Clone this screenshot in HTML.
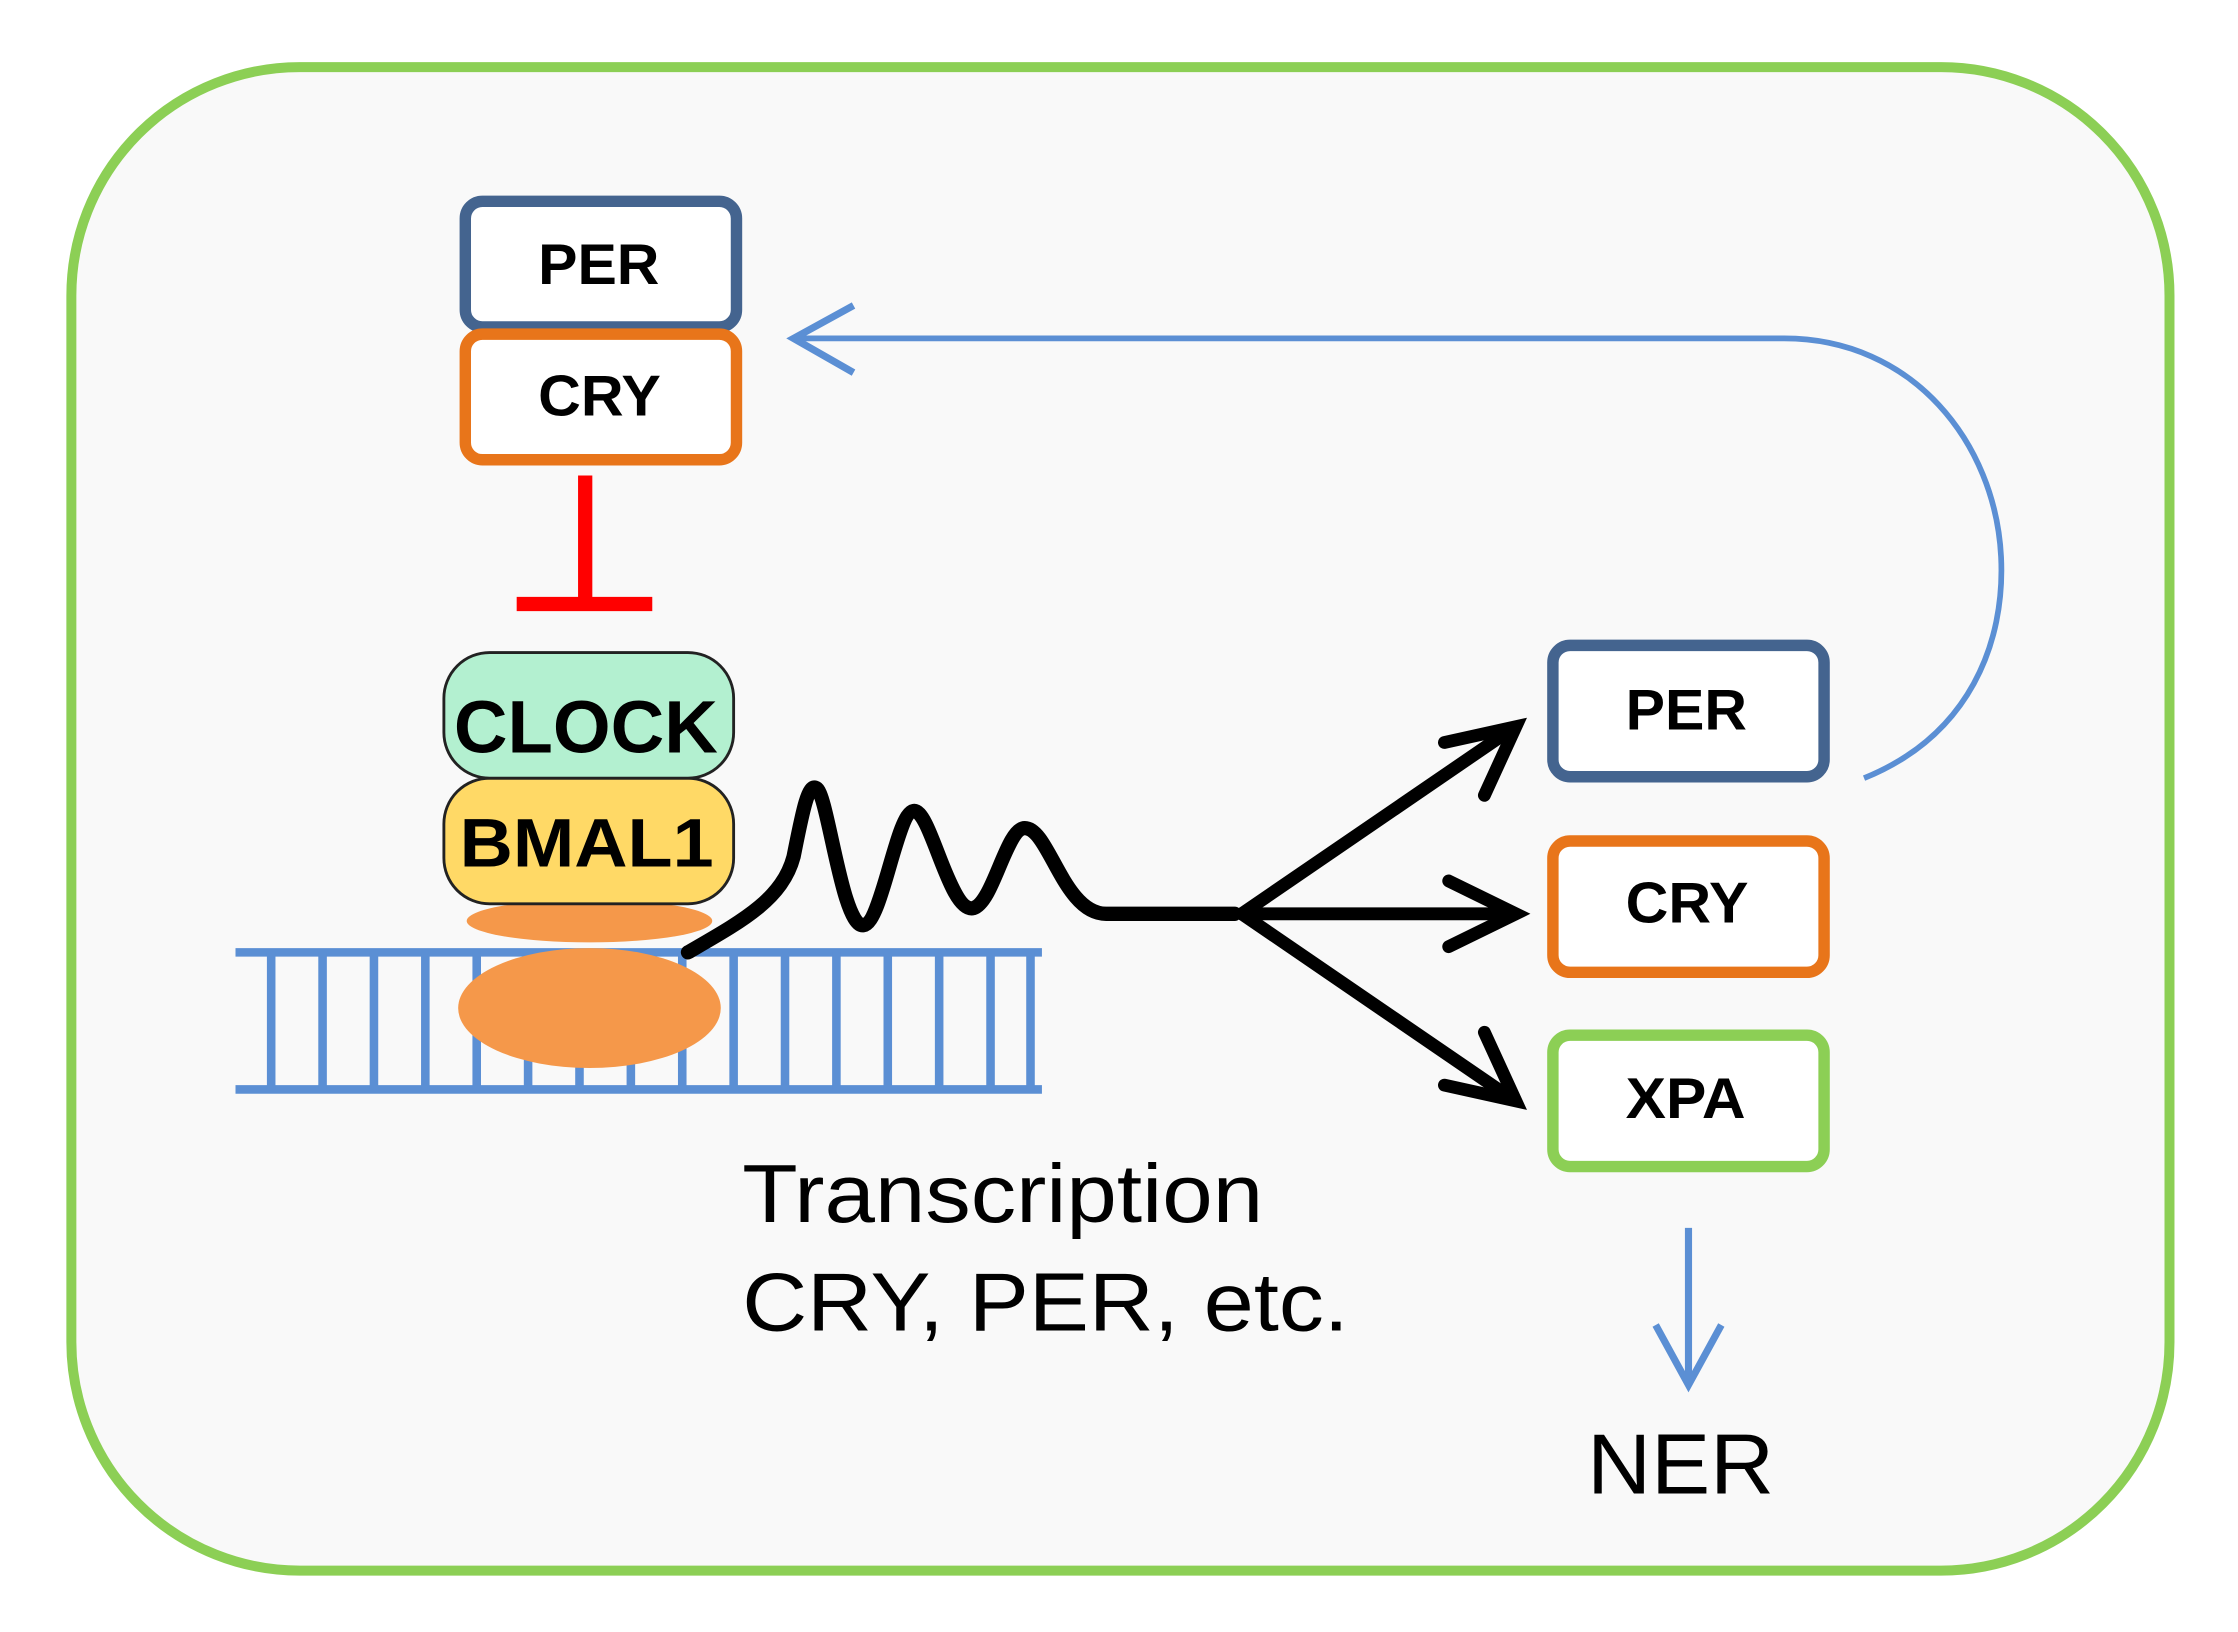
<!DOCTYPE html>
<html><head><style>html,body{margin:0;padding:0;background:#fff}svg{display:block}</style></head><body>
<svg width="2238" height="1632" viewBox="0 0 1568 1143" preserveAspectRatio="none" font-family="Liberation Sans, Arial, sans-serif">
<rect x="0" y="0" width="1568" height="1143" fill="#fff"/>
<rect x="50" y="47" width="1470" height="1053" rx="160" fill="#f9f9f9" stroke="#8ccf55" stroke-width="7"/>
<!-- top PER/CRY -->
<rect x="326" y="141" width="190" height="88" rx="12" fill="#fff" stroke="#44648f" stroke-width="8"/>
<text x="377" y="199" font-size="40" font-weight="bold" textLength="85" lengthAdjust="spacingAndGlyphs">PER</text>
<rect x="326" y="234" width="190" height="88" rx="12" fill="#fff" stroke="#e8751a" stroke-width="8"/>
<text x="377" y="291" font-size="40" font-weight="bold" textLength="86" lengthAdjust="spacingAndGlyphs">CRY</text>
<!-- inhibition -->
<line x1="410" y1="333" x2="410" y2="423" stroke="#f00" stroke-width="10"/>
<line x1="362" y1="423" x2="457" y2="423" stroke="#f00" stroke-width="10"/>
<!-- DNA -->
<g stroke="#5b8fd4" stroke-width="6">
<line x1="165" y1="667" x2="730" y2="667"/>
<line x1="165" y1="763" x2="730" y2="763"/>
<line x1="190" y1="667" x2="190" y2="763"/><line x1="226" y1="667" x2="226" y2="763"/><line x1="262" y1="667" x2="262" y2="763"/><line x1="298" y1="667" x2="298" y2="763"/><line x1="334" y1="667" x2="334" y2="763"/><line x1="370" y1="667" x2="370" y2="763"/><line x1="406" y1="667" x2="406" y2="763"/><line x1="442" y1="667" x2="442" y2="763"/><line x1="478" y1="667" x2="478" y2="763"/><line x1="514" y1="667" x2="514" y2="763"/><line x1="550" y1="667" x2="550" y2="763"/><line x1="586" y1="667" x2="586" y2="763"/><line x1="622" y1="667" x2="622" y2="763"/><line x1="658" y1="667" x2="658" y2="763"/><line x1="694" y1="667" x2="694" y2="763"/><line x1="722" y1="667" x2="722" y2="763"/>
</g>
<ellipse cx="413" cy="706" rx="92" ry="42" fill="#f5984a"/>
<ellipse cx="413" cy="645" rx="86" ry="15" fill="#f5984a"/>
<!-- CLOCK / BMAL1 -->
<rect x="311" y="545" width="203" height="88" rx="32" fill="#ffd966" stroke="#222" stroke-width="2"/>
<text x="322" y="607" font-size="48" font-weight="bold" textLength="178" lengthAdjust="spacingAndGlyphs">BMAL1</text>
<rect x="311" y="457" width="203" height="88" rx="32" fill="#b3f0d0" stroke="#222" stroke-width="2"/>
<text x="318" y="527" font-size="52" font-weight="bold" textLength="185" lengthAdjust="spacingAndGlyphs">CLOCK</text>
<!-- wave -->
<path d="M482,667 C520,645 548,630 556,600 C562,570 566,548 572,552 C580,556 590,650 605,648 C618,646 628,570 640,568 C652,566 665,640 682,636 C696,632 705,580 718,580 C735,580 745,640 775,640 L865,640" fill="none" stroke="#000" stroke-width="10" stroke-linejoin="round" stroke-linecap="round"/>
<!-- arrows -->
<g stroke="#000" stroke-width="9" fill="none" stroke-linecap="round" stroke-linejoin="miter">
<line x1="870" y1="640" x2="1060" y2="510"/>
<polyline points="1012,520 1062,509 1040,557"/>
<line x1="870" y1="640" x2="1060" y2="640"/>
<polyline points="1015,617 1062,640 1015,663"/>
<line x1="870" y1="640" x2="1060" y2="770"/>
<polyline points="1040,723 1062,771 1012,760"/>
</g>
<!-- right boxes -->
<rect x="1088" y="452" width="190" height="92" rx="12" fill="#fff" stroke="#44648f" stroke-width="8"/>
<text x="1139" y="511" font-size="40" font-weight="bold" textLength="85" lengthAdjust="spacingAndGlyphs">PER</text>
<rect x="1088" y="589" width="190" height="92" rx="12" fill="#fff" stroke="#e8751a" stroke-width="8"/>
<text x="1139" y="646" font-size="40" font-weight="bold" textLength="86" lengthAdjust="spacingAndGlyphs">CRY</text>
<rect x="1088" y="725" width="190" height="92" rx="12" fill="#fff" stroke="#8ccf55" stroke-width="8"/>
<text x="1139" y="783" font-size="40" font-weight="bold" textLength="84" lengthAdjust="spacingAndGlyphs">XPA</text>
<!-- feedback arrow -->
<path d="M1306,545 C1380,515 1405,450 1402,390 C1398,310 1340,237 1250,237 L558,237" fill="none" stroke="#5b8fd4" stroke-width="4"/>
<polyline points="598,214 556,237 598,261" fill="none" stroke="#5b8fd4" stroke-width="5"/>
<!-- NER arrow -->
<line x1="1183" y1="860" x2="1183" y2="970" stroke="#5b8fd4" stroke-width="5"/>
<polyline points="1160,928 1183,970 1206,928" fill="none" stroke="#5b8fd4" stroke-width="5"/>
<text x="520" y="856" font-size="58" textLength="365" lengthAdjust="spacingAndGlyphs">Transcription</text>
<text x="520" y="932" font-size="58" textLength="425" lengthAdjust="spacingAndGlyphs">CRY, PER, etc.</text>
<text x="1112" y="1046" font-size="60" textLength="131" lengthAdjust="spacingAndGlyphs">NER</text>
</svg>
</body></html>
